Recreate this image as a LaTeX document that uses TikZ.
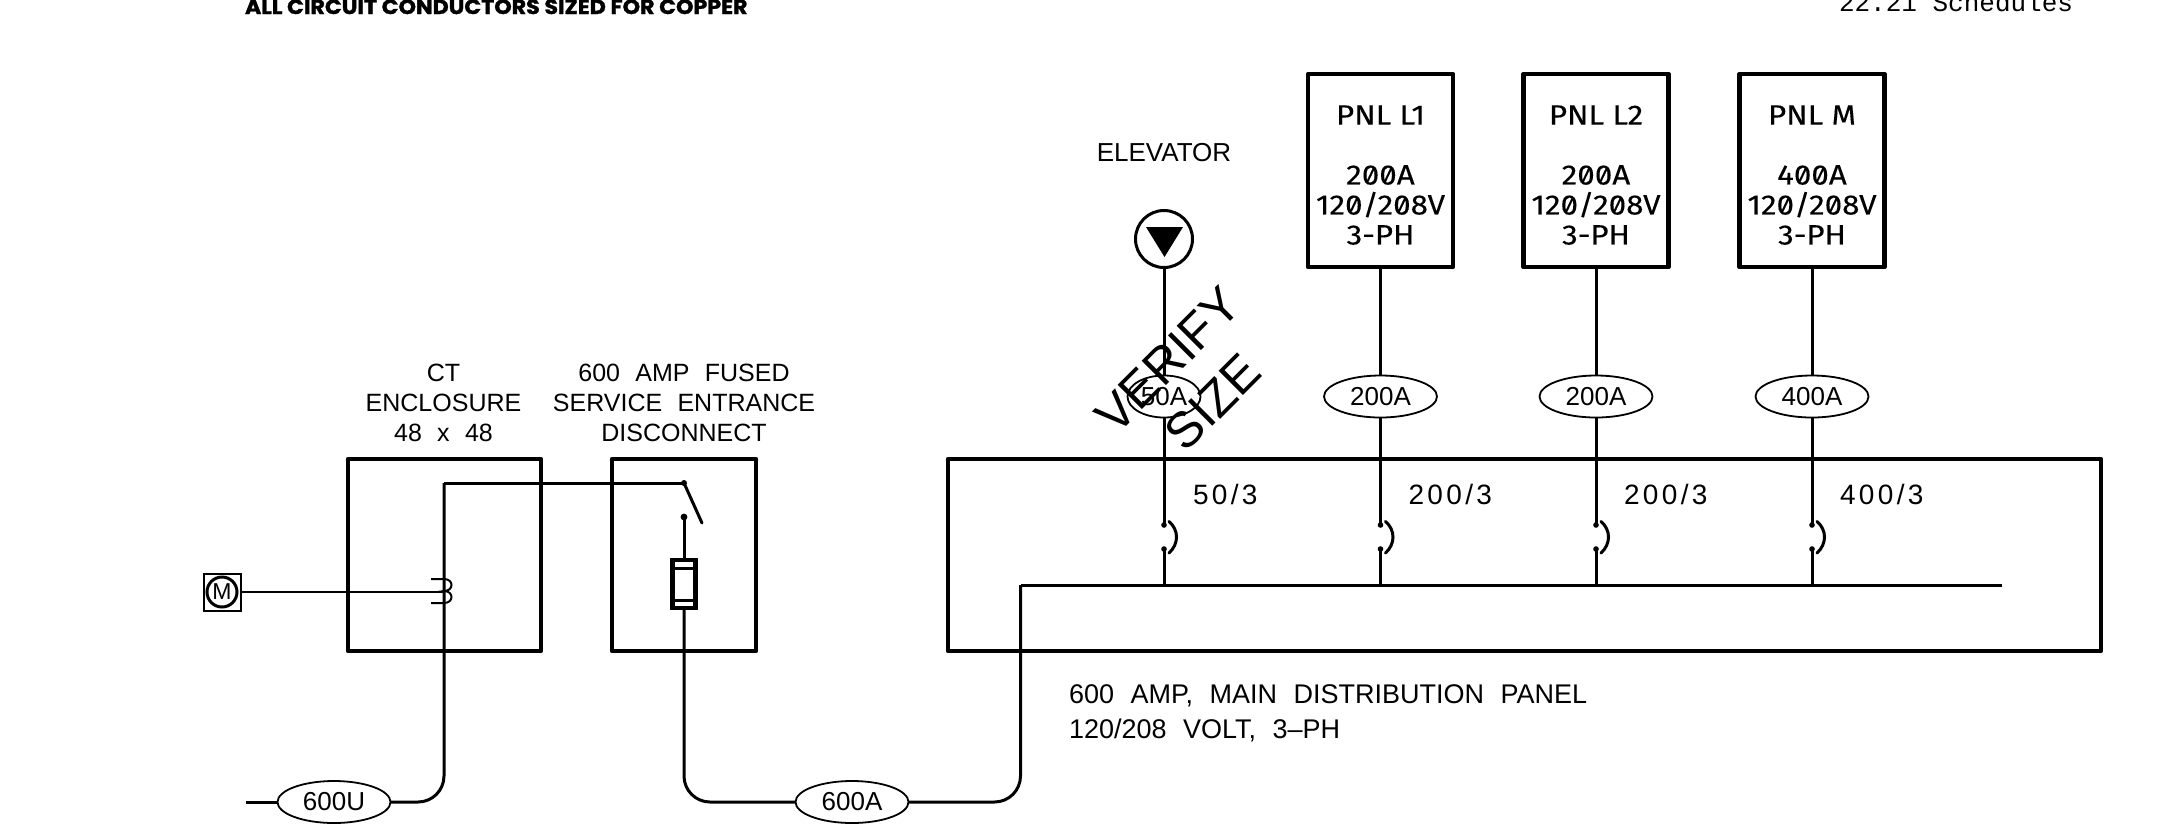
\documentclass[tikz,border=0pt]{standalone}
\usepackage{fontspec}
\usetikzlibrary{shapes.geometric}
\setmainfont{Liberation Sans}
\newfontfamily\cadfont[WordSpace=2.2]{Liberation Sans}
\newfontfamily\spacedfont[LetterSpace=12,WordSpace=2.5]{Liberation Sans}
\newfontfamily\pnlfont[Numbers=SlashedZero,FakeStretch=1.12,FakeBold=0.2]{Fira Sans}
\newfontfamily\headfont[FakeStretch=1.08,FakeBold=1.5]{Poppins}
\newfontfamily\monofnt{Liberation Mono}
\tikzset{
  every node/.style={inner sep=0pt,outer sep=0pt},
  box/.style={draw,line width=4.5pt,rectangle,minimum width=#1,line join=round},
  wire/.style={line width=3pt},
  thinwire/.style={line width=1.7pt},
  tag/.style={draw,ellipse,line width=1.8pt,minimum width=113pt,minimum height=42pt,font=\cadfont\fontsize{26}{30}\selectfont},
  cad/.style={font=\cadfont\fontsize{25}{30}\selectfont,align=center},
  pnl/.style={font=\pnlfont\fontsize{28}{30}\selectfont,align=center},
  trip/.style={font=\spacedfont\fontsize{28}{30}\selectfont,anchor=west},
  stamp/.style={font=\fontsize{50}{52}\selectfont,rotate=45}
}
\begin{document}
\begin{tikzpicture}[x=1pt,y=-1pt]
\useasboundingbox (0,0) rectangle (2180,831);
% header texts
\node[font=\headfont\bfseries\fontsize{20.5}{22}\selectfont,anchor=base west] (head) at (245,14) {ALL CIRCUIT CONDUCTORS SIZED FOR COPPER};
\node[font=\monofnt\fontsize{26}{30}\selectfont,anchor=base west] (sched) at (1839,11) {22.21 Schedules};
% enclosures
\node[box=193pt,minimum height=192pt] (ct) at (444.5,555) {};
\node[box=144pt,minimum height=192pt] (disc) at (684,555) {};
\node[box=1153pt,minimum height=192pt] (mdp) at (1524.5,555) {};
\node[cad] (ctlabel) at (443.5,403) {CT\\ENCLOSURE\\48 x 48};
\node[cad] (disclabel) at (684,403) {600 AMP FUSED\\SERVICE ENTRANCE\\DISCONNECT};
\node[font=\cadfont\fontsize{27}{35}\selectfont,align=left,anchor=north west] (mdplabel) at (1069,685) {600 AMP, MAIN DISTRIBUTION PANEL\\120/208 VOLT, 3–PH};
% panels
\node[box=145pt,minimum height=193pt] (l1) at (1380.5,170.5) {};
\node[box=145pt,minimum height=193pt] (l2) at (1596,170.5) {};
\node[box=145pt,minimum height=193pt] (pm) at (1812,170.5) {};
\foreach \n/\x/\a/\b/\lab in {l1/1380.5/200A/200/PNL L1,l2/1596/200A/200/PNL L2,pm/1812/400A/400/PNL M}{
  \node[pnl] (txt\n a) at (\x,115) {\lab};
  \node[pnl] (txt\n b) at (\x,205) {\a\\120/208V\\3-PH};
  \node[tag] (tag\n) at (\x,396.5) {\a};
  \node[trip] (trip\n) at ({\x+28},494) {\b/3};
  \coordinate (top\n) at (\x,525);
  \coordinate (bot\n) at (\x,549);
  \coordinate (bus\n) at (\x,585);
  \draw[wire] (\n.south) -- (tag\n.north);
  \draw[wire] (tag\n.south) -- (top\n);
  \draw[wire] (bot\n) -- (bus\n);
  \fill (top\n) circle (2.8pt) (bot\n) circle (2.8pt);
  \draw[wire,line cap=round] ({\x+5},521.5) .. controls ({\x+15},530) and ({\x+15},544) .. ({\x+5},553);
}
% elevator
\node[font=\cadfont\fontsize{26}{30}\selectfont] (elevlabel) at (1164,153) {ELEVATOR};
\node[draw,circle,line width=3pt,minimum size=57pt] (elev) at (1164,239) {};
\fill (1146,227) -- (1183,227) -- (1164.5,257) -- cycle;
\node[tag,minimum width=73pt] (tagel) at (1164,396.5) {50A};
\coordinate (topel) at (1164,525);
\coordinate (botel) at (1164,549);
\coordinate (busel) at (1164,585);
\node[trip] (tripel) at (1193,494) {50/3};
\draw[wire] (elev.south) -- (tagel.north);
\draw[wire] (tagel.south) -- (topel);
\draw[wire] (botel) -- (busel);
\fill (topel) circle (2.8pt) (botel) circle (2.8pt);
\draw[wire,line cap=round] (1169,521.5) .. controls (1179,530) and (1179,544) .. (1169,553);
% bus
\coordinate (busend) at (2002,585);
\coordinate (buscorner) at (1020.5,585);
\coordinate (low) at (1020.5,802);
\draw[wire] (busend) -- (buscorner);
% service feeders
\node[tag] (t600a) at (852,802) {600A};
\node[tag] (t600u) at (334,802) {600U};
\coordinate (piv) at (684,483);
\coordinate (blade) at (702,523);
\coordinate (lowdot) at (684,517);
\coordinate (wirecorner) at (444,483);
\coordinate (ulow) at (444,802);
\coordinate (uend) at (246,802);
\coordinate (flow) at (684,802);
\draw[wire,rounded corners=26pt] (t600a.east) -- (low) -- (buscorner);
\draw[wire,rounded corners=26pt] (t600a.west) -- (flow) -- (684,607);
\draw[wire,rounded corners=26pt] (t600u.east) -- (ulow) -- (wirecorner);
\draw[wire] (wirecorner) -- (piv);
\draw[wire,line cap=round] (piv) -- (blade);
\draw[wire] (lowdot) -- (684,560);
\fill (piv) circle (3pt) (lowdot) circle (3.4pt);
\draw[wire] (uend) -- (t600u.west);
% fuse
\node[draw,line width=4.5pt,rectangle,minimum width=23pt,minimum height=48pt] (fuse) at (684,584) {};
\draw[line width=3pt] (fuse.north west)++(0,8) -- ++(23,0);
\draw[line width=3pt] (fuse.south west)++(0,-8) -- ++(23,0);
% meter
\node[draw,line width=2pt,rectangle,minimum width=37pt,minimum height=37pt] (meter) at (222,592) {};
\node[draw,circle,line width=3pt,minimum size=30pt,font=\fontsize{23}{23}\selectfont] (mc) at (222,592) {M};
\coordinate (ctin) at (444,592);
\draw[thinwire] (meter.east) -- (ctin);
% CT symbol
\coordinate (cta) at (444,579);
\coordinate (ctb) at (444,591);
\coordinate (ctc) at (444,603);
\draw[line width=2pt] (431,579) -- (cta) .. controls (454,579) and (454,591) .. (ctb) .. controls (454,591) and (454,603) .. (ctc) -- (431,603);
% stamp
\node[stamp] (verify) at (1168,360) {VERIFY};
\node[stamp] (size) at (1213,402) {SIZE};
\end{tikzpicture}
\end{document}
